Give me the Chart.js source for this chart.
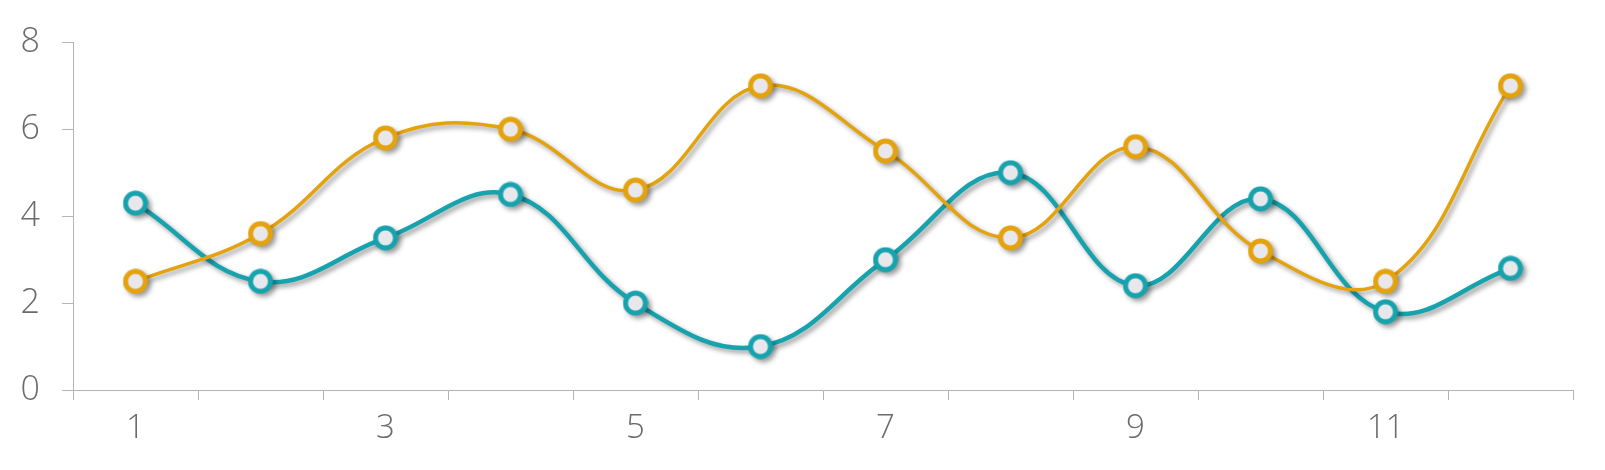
<!DOCTYPE html>
<html>
<head>
<meta charset="utf-8">
<script src="https://cdn.jsdelivr.net/npm/chart.js@4"></script>
<style>
  html, body { margin: 0; padding: 0; background: #fff; }
  #wrap { width: 1605px; height: 470px; }
</style>
</head>
<body>
<div id="wrap"><canvas id="c"></canvas></div>
<script>
const categories = ['1','2','3','4','5','6','7','8','9','10','11','12'];
const orangeValues = [2.5, 3.6, 5.8, 6.0, 4.6, 7.0, 5.5, 3.5, 5.6, 3.2, 2.5, 7.0];
const tealValues   = [4.3, 2.5, 3.5, 4.5, 2.0, 1.0, 3.0, 5.0, 2.4, 4.4, 1.8, 2.8];
const yTicks = [0, 2, 4, 6, 8];

const ORANGE = '#e4a20c';
const TEAL = '#17a3ae';
const AXIS = '#b4b4b4';
const TXT = '#6b6b6b';
const FONT = "'Open Sans', Lato, sans-serif";

// solid ring + light fill as one image, so the ctx shadow falls only outside it
function marker(color) {
  const s = 26, m = s / 2;
  const cv = document.createElement('canvas');
  cv.width = s; cv.height = s;
  const c = cv.getContext('2d');
  c.beginPath(); c.arc(m, m, 12.5, 0, Math.PI * 2);
  c.fillStyle = color; c.fill();
  c.beginPath(); c.arc(m, m, 7.5, 0, Math.PI * 2);
  c.fillStyle = '#e8e8ec'; c.fill();
  return cv;
}

const shadowPlugin = {
  id: 'shadow',
  beforeDatasetDraw(ch) {
    const c = ch.ctx;
    c.save();
    c.shadowColor = 'rgba(0,0,0,0.4)';
    c.shadowBlur = 5;
    c.shadowOffsetX = 3;
    c.shadowOffsetY = 3;
  },
  afterDatasetDraw(ch) { ch.ctx.restore(); }
};

new Chart(document.getElementById('c'), {
  type: 'line',
  plugins: [shadowPlugin],
  data: {
    labels: categories,
    datasets: [
      {
        data: orangeValues,
        borderColor: ORANGE,
        borderWidth: 3.5,
        pointStyle: marker(ORANGE),
        pointRadius: 12,
        tension: 0.4,
        fill: false
      },
      {
        data: tealValues,
        borderColor: TEAL,
        borderWidth: 4.5,
        pointStyle: marker(TEAL),
        pointRadius: 12,
        tension: 0.4,
        fill: false
      }
    ]
  },
  options: {
    responsive: true, maintainAspectRatio: false,
    animation: false,
    layout: { padding: { top: 39, right: 32, left: 0, bottom: 0 } },
    scales: {
      x: {
        offset: true,
        grid: { offset: true, drawOnChartArea: false, tickLength: 10, color: AXIS, lineWidth: 1 },
        border: { color: AXIS, width: 1 },
        ticks: {
          autoSkip: false, maxRotation: 0, padding: 9,
          color: TXT, font: { family: FONT, size: 33, weight: 300 },
          callback: (v, i) => i % 2 === 0 ? categories[i] : ''
        },
        afterFit(a) { a.height = 80; }
      },
      y: {
        min: 0, max: 8,
        afterBuildTicks(a) { a.ticks = yTicks.map(v => ({ value: v })); },
        grid: { drawOnChartArea: false, tickLength: 11, color: AXIS, lineWidth: 1 },
        border: { color: AXIS, width: 1 },
        ticks: { padding: 22, color: TXT, font: { family: FONT, size: 34, weight: 300 } },
        afterFit(a) { a.width = 73; }
      }
    },
    plugins: { legend: { display: false }, tooltip: { enabled: false } }
  }
});
</script>
</body>
</html>
